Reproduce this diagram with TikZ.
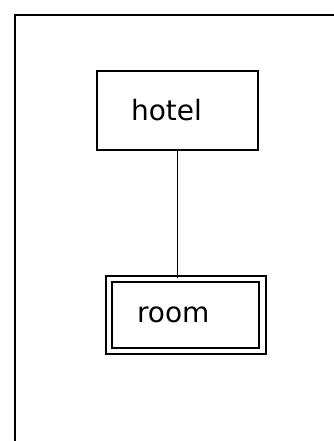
\documentclass[tikz,border=0pt]{standalone}
\usepackage{fontspec}
\setmainfont{DejaVu Sans}
\usetikzlibrary{positioning}
\tikzset{
  ent/.style    ={draw,line width=1.5pt,font=\fontsize{21}{24}\selectfont,align=left,
                  inner ysep=0pt},
  strong/.style ={ent,inner xsep=25.5pt,text width=69.75pt,minimum height=59.25pt},
  weak/.style   ={ent,double,double distance=3.7pt,inner xsep=21pt,text width=73.1pt,
                  minimum height=54pt},
  rel/.style    ={line width=1.3pt},
}
\begin{document}
\begin{tikzpicture}[x=0.75pt,y=-0.75pt]
  \useasboundingbox (0,0) rectangle (334,441);
  \draw[line width=1.5pt] (15,441) -- (15,15) -- (334,15);
  \node[strong] (hotel) at (177.5,110.5) {hotel};
  \node[weak]   (room)  at (185.75,315) {room};
  \draw[rel] (hotel.south) -- (hotel.south |- room.north);
\end{tikzpicture}
\end{document}
